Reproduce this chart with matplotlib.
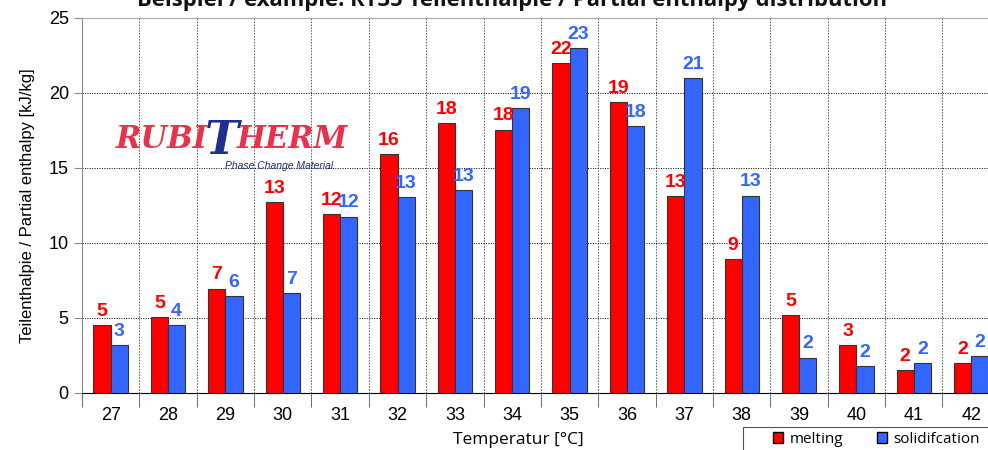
import matplotlib.pyplot as plt
import numpy as np
from matplotlib.patches import Patch, Rectangle

# ---- data ----
temps = [27, 28, 29, 30, 31, 32, 33, 34, 35, 36, 37, 38, 39, 40, 41, 42]
melting = [4.5, 5.05, 6.95, 12.7, 11.9, 15.9, 18.0, 17.55, 22.0, 19.4, 13.1, 8.9, 5.2, 3.2, 1.5, 2.0]
solidification = [3.2, 4.5, 6.45, 6.65, 11.75, 13.05, 13.5, 19.0, 23.0, 17.8, 21.0, 13.15, 2.35, 1.8, 2.0, 2.45]
# labels as printed on the chart
melting_lbl = [5, 5, 7, 13, 12, 16, 18, 18, 22, 19, 13, 9, 5, 3, 2, 2]
solid_lbl = [3, 4, 6, 7, 12, 13, 13, 19, 23, 18, 21, 13, 2, 2, 2, 2]

RED = "#ff0000"
BLUE = "#3366ff"

plt.rcParams['font.family'] = ['Liberation Sans', 'DejaVu Sans']

fig = plt.figure(figsize=(9.88, 4.5), dpi=100)
ax = fig.add_axes([0.083, 0.1267, 0.929, 0.8333])

x = np.arange(len(temps))
w = 0.3
ax.bar(x - w/2, melting, w, color=RED, edgecolor="#333333", linewidth=0.8, zorder=3)
ax.bar(x + w/2, solidification, w, color=BLUE, edgecolor="#333333", linewidth=0.8, zorder=3)

# value labels
for i in range(len(temps)):
    ax.text(x[i] - w/2, melting[i] + 0.35, str(melting_lbl[i]), color=RED,
            fontsize=14, fontweight='bold', ha='center', va='bottom', zorder=4)
    ax.text(x[i] + w/2, solidification[i] + 0.35, str(solid_lbl[i]), color=BLUE,
            fontsize=14, fontweight='bold', ha='center', va='bottom', zorder=4)

ax.set_xlim(-0.5, len(temps) - 0.5)
ax.set_ylim(0, 25)

# x ticks: labels at centers, tick marks at boundaries
ax.set_xticks(x)
ax.set_xticklabels([str(t) for t in temps], fontsize=13)
ax.tick_params(axis='x', which='major', length=0, pad=10)
ax.set_xticks(np.arange(-0.5, len(temps), 1), minor=True)
ax.tick_params(axis='x', which='minor', length=10, color='#555555')

ax.set_yticks(np.arange(0, 26, 5))
ax.tick_params(axis='y', labelsize=13, length=6, color='#888888')

# grid
ax.grid(axis='x', which='minor', color='#555555', linestyle=(0, (1.5, 1.5)), linewidth=0.7, zorder=0)
ax.grid(axis='y', which='major', color='black', linestyle=(0, (1, 1.5)), linewidth=0.7, zorder=0)
ax.grid(axis='x', which='major', visible=False)

ax.spines['right'].set_visible(False)
ax.spines['top'].set_color('#aaaaaa')
ax.spines['left'].set_color('#888888')
ax.spines['bottom'].set_color('black')

ax.set_ylabel("Teilenthalpie / Partial enthalpy [kJ/kg]", fontsize=12, labelpad=10)
fig.text(0.525, 0.022, "Temperatur [°C]", fontsize=12.5, ha='center', va='center',
         family=['Open Sans', 'DejaVu Sans'])

# title (clipped at top like the reference)
fig.text(0.524, 0.998, "Beispiel / example: RT35 Teilenthalpie / Partial enthalpy distribution*",
         fontsize=15.8, fontweight='bold', family=['Open Sans', 'DejaVu Sans'],
         ha='center', va='center', color='#111111')

# logo
fig.text(0.117, 0.655, "RUBI", fontsize=22, fontweight='bold', style='italic',
         family=['DejaVu Serif'], color='#e8324b', ha='left', va='bottom')
fig.text(0.207, 0.635, "T", fontsize=33, fontweight='bold', style='italic',
         family=['DejaVu Serif'], color='#1f2f8f', ha='left', va='bottom')
fig.text(0.240, 0.655, "HERM", fontsize=22, fontweight='bold', style='italic',
         family=['DejaVu Serif'], color='#e8324b', ha='left', va='bottom')
fig.text(0.228, 0.643, "Phase Change Material", fontsize=7.5, style='italic',
         color='#1f2f8f', ha='left', va='top')

# legend box bottom right (runs off the right edge like the reference)
fig.patches.append(Rectangle((743/988, -0.02), 0.3, 23/450 + 0.02, transform=fig.transFigure,
                             facecolor='white', edgecolor='#555555', linewidth=0.8))
handles = [Patch(facecolor=RED, edgecolor='black', label='melting'),
           Patch(facecolor=BLUE, edgecolor='black', label='solidifcation')]
leg = fig.legend(handles=handles, loc='upper left', bbox_to_anchor=(768/988, 0.051),
                 ncol=2, frameon=False, borderaxespad=0,
                 handlelength=0.7, handleheight=0.7, handletextpad=0.4,
                 columnspacing=2.2, borderpad=0.3,
                 prop={'family': ['Open Sans', 'DejaVu Sans'], 'size': 11})

fig.savefig("out.png", dpi=100)
